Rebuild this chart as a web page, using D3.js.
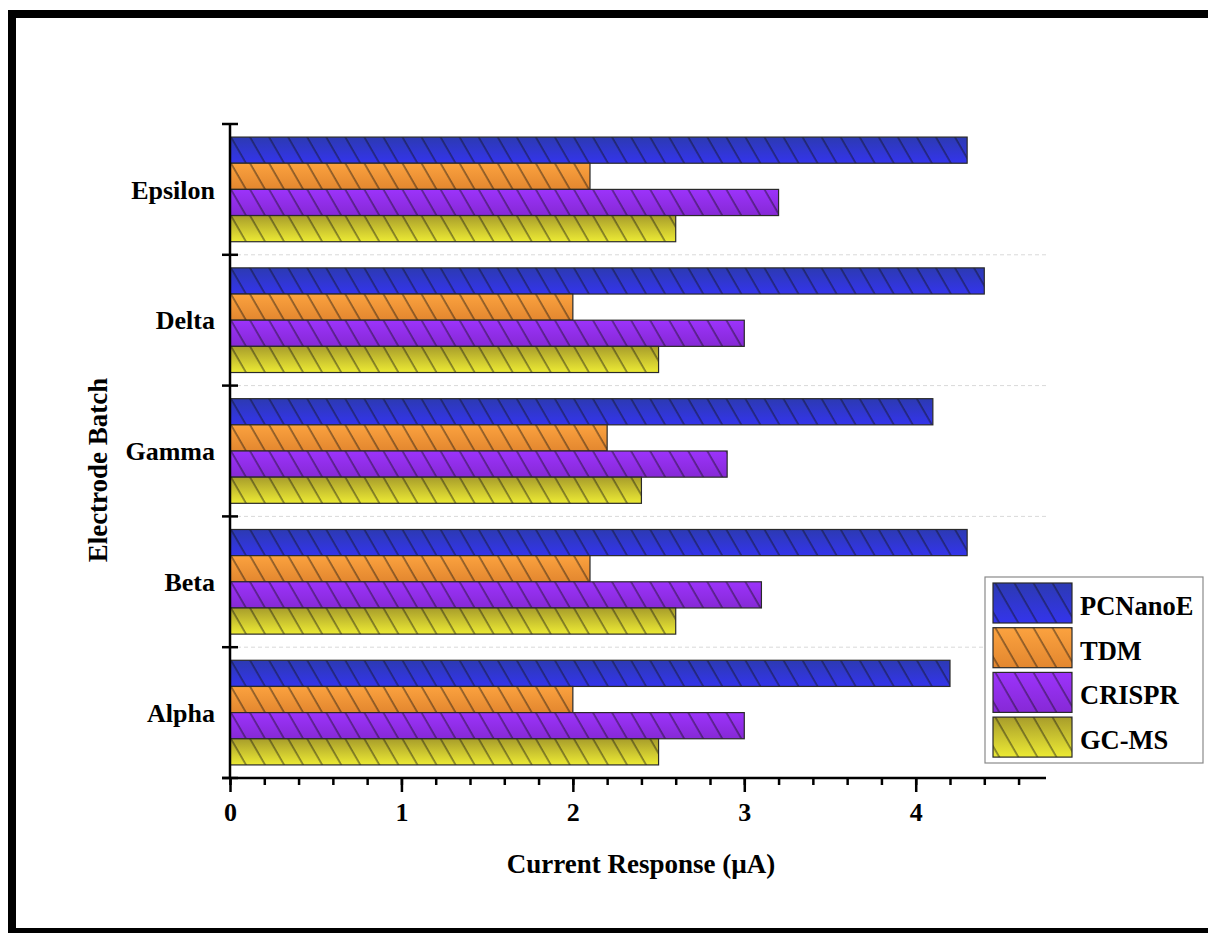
<!DOCTYPE html>
<html>
<head>
<meta charset="utf-8">
<script src="https://cdn.jsdelivr.net/npm/d3@7"></script>
<style>
  html, body { margin: 0; padding: 0; background: #fff; overflow: hidden; }
  svg { display: block; }
  text { font-family: "Liberation Serif", "Times New Roman", serif; font-weight: bold; fill: #000; }
</style>
</head>
<body>
<svg id="chart" width="1208" height="933"></svg>
<script>
// Electrode batches (bottom to top) and the four measurement methods
const categories = ["Alpha", "Beta", "Gamma", "Delta", "Epsilon"];
const seriesNames = ["PCNanoE", "TDM", "CRISPR", "GC-MS"];

// Current response (µA) per batch, one array per method
const pcnanoeValues = [4.2, 4.3, 4.1, 4.4, 4.3];
const tdmValues     = [2.0, 2.1, 2.2, 2.0, 2.1];
const crisprValues  = [3.0, 3.1, 2.9, 3.0, 3.2];
const gcmsValues    = [2.5, 2.6, 2.4, 2.5, 2.6];

const xMajorTicks = [0, 1, 2, 3, 4];
const xTitle = "Current Response (\u00B5A)";
const yTitle = "Electrode Batch";

const seriesValues = [pcnanoeValues, tdmValues, crisprValues, gcmsValues];
// gradient stops (top, bottom) per method
const gradientStops = [
  ["#2c3ab2", "#3434ec"],
  ["#fba23f", "#e3872f"],
  ["#9c33fb", "#8629d6"],
  ["#a89d2b", "#ecea34"]
];

const svg = d3.select("#chart");
const defs = svg.append("defs");

seriesNames.forEach((s, i) => {
  const g = defs.append("linearGradient")
    .attr("id", "grad" + i)
    .attr("x1", 0).attr("y1", 0).attr("x2", 0).attr("y2", 1);
  g.append("stop").attr("offset", "0%").attr("stop-color", gradientStops[i][0]);
  g.append("stop").attr("offset", "100%").attr("stop-color", gradientStops[i][1]);
});

// backslash hatch
const hatch = defs.append("pattern")
  .attr("id", "hatch")
  .attr("patternUnits", "userSpaceOnUse")
  .attr("width", 16.5).attr("height", 40)
  .attr("patternTransform", "rotate(-30)");
hatch.append("line")
  .attr("x1", 2).attr("y1", -2).attr("x2", 2).attr("y2", 42)
  .attr("stroke", "#111").attr("stroke-opacity", 0.8).attr("stroke-width", 1);

// outer frame: left, top and bottom edges (the right edge runs off the page)
const frame = svg.append("g").attr("stroke", "#000").attr("stroke-width", 8).attr("fill", "none");
frame.append("path").attr("d", "M1208,14 H12 V932 H1208");

const plotLeft = 230, plotRight = 1046, plotTop = 124, plotBottom = 778;

const x = d3.scaleLinear().domain([0, 4.76]).range([plotLeft, plotRight]);
const y = d3.scaleBand()
  .domain(categories.slice().reverse())
  .range([plotTop, plotBottom])
  .paddingInner(0.2)
  .paddingOuter(0.1);
const ySub = d3.scaleBand().domain(seriesNames).range([0, y.bandwidth()]).padding(0);

// dashed separators between batches
const boundaries = d3.range(categories.length + 1).map(i => plotTop + i * y.step());
svg.append("g").selectAll("line")
  .data(boundaries.slice(1, -1))
  .join("line")
  .attr("x1", plotLeft).attr("x2", plotRight)
  .attr("y1", d => d).attr("y2", d => d)
  .attr("stroke", "#d9d9d9").attr("stroke-width", 1).attr("stroke-dasharray", "4,3");

// bars
const rows = [];
categories.forEach((c, ci) => {
  seriesNames.forEach((s, si) => rows.push({ cat: c, series: s, si, value: seriesValues[si][ci] }));
});

const bars = svg.append("g").selectAll("g")
  .data(rows)
  .join("g")
  .attr("transform", d => `translate(0,${y(d.cat) + ySub(d.series)})`);

bars.append("rect")
  .attr("x", x(0)).attr("y", 0)
  .attr("width", d => x(d.value) - x(0))
  .attr("height", ySub.bandwidth())
  .attr("fill", d => `url(#grad${d.si})`);
bars.append("rect")
  .attr("x", x(0)).attr("y", 0)
  .attr("width", d => x(d.value) - x(0))
  .attr("height", ySub.bandwidth())
  .attr("fill", "url(#hatch)")
  .attr("stroke", "#2a2a2a").attr("stroke-width", 1.2);

// x axis: minor ticks every 0.2, major ticks with labels
const xMinor = d3.range(0, 4.61, 0.2).map(v => +v.toFixed(1));
const xAxisMinor = svg.append("g")
  .attr("transform", `translate(0,${plotBottom})`)
  .call(d3.axisBottom(x).tickValues(xMinor).tickSize(7).tickFormat(""));
const xAxis = svg.append("g")
  .attr("transform", `translate(0,${plotBottom})`)
  .call(d3.axisBottom(x).tickValues(xMajorTicks).tickSize(14).tickPadding(11).tickFormat(d3.format("d")));
[xAxisMinor, xAxis].forEach(g => {
  g.select(".domain").remove();
  g.selectAll(".tick line").attr("stroke", "#000").attr("stroke-width", 2.5);
});
xAxis.selectAll(".tick text").style("font-size", "26px").style("font-family", "Liberation Serif").style("font-weight", "bold");
svg.append("line")
  .attr("x1", plotLeft - 8).attr("x2", plotRight)
  .attr("y1", plotBottom).attr("y2", plotBottom)
  .attr("stroke", "#000").attr("stroke-width", 2.5);

// y axis: line, crossing ticks at batch boundaries, labels at batch centres
svg.append("line")
  .attr("x1", plotLeft).attr("x2", plotLeft)
  .attr("y1", plotTop).attr("y2", plotBottom)
  .attr("stroke", "#000").attr("stroke-width", 2.5);
svg.append("g").selectAll("line")
  .data(boundaries)
  .join("line")
  .attr("x1", plotLeft - 8).attr("x2", plotLeft + 8)
  .attr("y1", d => d).attr("y2", d => d)
  .attr("stroke", "#000").attr("stroke-width", 2.5);
svg.append("g").selectAll("text")
  .data(categories)
  .join("text")
  .attr("x", 215)
  .attr("y", d => y(d) + y.bandwidth() / 2)
  .attr("dy", "0.35em")
  .attr("text-anchor", "end")
  .style("font-size", "26px")
  .text(d => d);

// axis titles
svg.append("text")
  .attr("x", (plotLeft + plotRight) / 2 + 3).attr("y", 873)
  .attr("text-anchor", "middle")
  .style("font-size", "27px")
  .text(xTitle);
svg.append("text")
  .attr("transform", "translate(107,470) rotate(-90)")
  .attr("text-anchor", "middle")
  .style("font-size", "27px")
  .text(yTitle);

// legend
const legend = svg.append("g").attr("transform", "translate(985,577)");
legend.append("rect")
  .attr("width", 218).attr("height", 186)
  .attr("fill", "#fff").attr("stroke", "#8a8a8a").attr("stroke-width", 1.2);
const items = legend.selectAll("g.item")
  .data(seriesNames)
  .join("g")
  .attr("class", "item")
  .attr("transform", (d, i) => `translate(8,${6 + i * 44.7})`);
items.append("rect")
  .attr("width", 79).attr("height", 40)
  .attr("fill", (d, i) => `url(#grad${i})`);
items.append("rect")
  .attr("width", 79).attr("height", 40)
  .attr("fill", "url(#hatch)")
  .attr("stroke", "#2a2a2a").attr("stroke-width", 1.2);
items.append("text")
  .attr("x", 87).attr("y", 32)
  .style("font-size", "26.5px")
  .text(d => d);
</script>
</body>
</html>
